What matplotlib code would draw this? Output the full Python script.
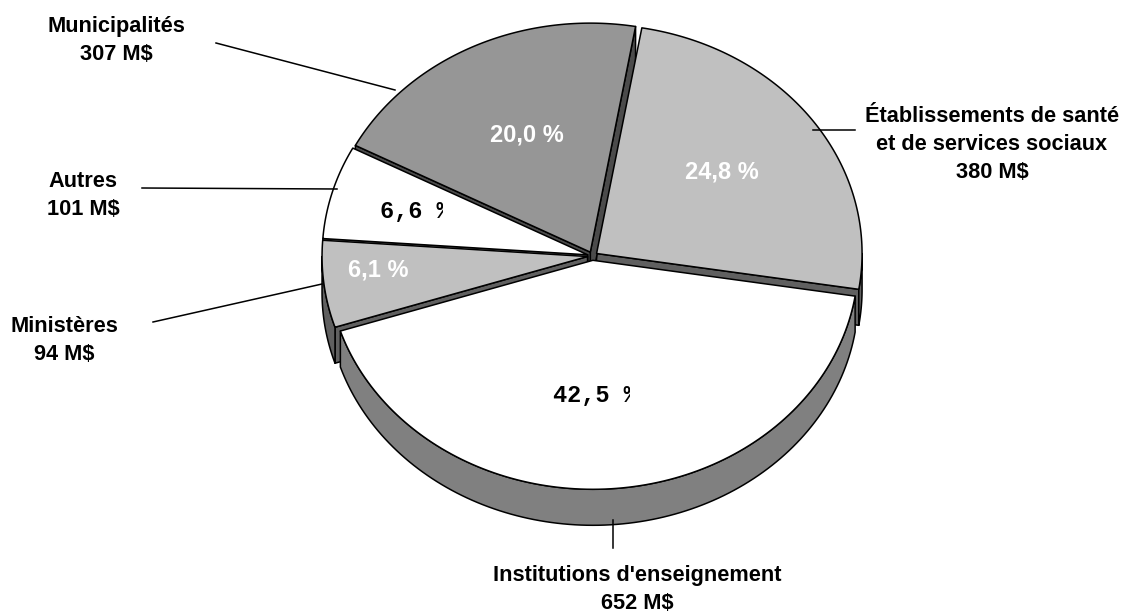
import numpy as np
import matplotlib
matplotlib.use("Agg")
import matplotlib.pyplot as plt
from matplotlib.patches import Polygon
from matplotlib.transforms import Bbox

# Budget by recipient group (M$), listed counter-clockwise around the pie
categories = ["Établissements de santé\net de services sociaux", "Municipalités",
              "Autres", "Ministères", "Institutions d'enseignement"]
amounts = [380, 307, 101, 94, 652]

top_colors = ["#c0c0c0", "#969696", "#ffffff", "#c0c0c0", "#ffffff"]
side_colors = ["#606060", "#4b4b4b", "#808080", "#606060", "#808080"]
pct_colors = ["white", "white", "black", "white", "black"]
pct_mono = [False, False, True, False, True]

# Layout (pixel space)
W, H = 1122, 613
cx, cy, rx, ry = 592.5, 256.0, 265.5, 229.0
depth = 36.0
explode = 5.0
start_angle = -9.0

pct_pos = [(722, 172), (527, 135), (415, 211), (378, 270), (595, 395)]
# x centre and baseline of the last line of each category label
label_pos = [(992, 178), (116, 60), (83, 215), (64, 360), (637, 609)]
leaders = [((813, 130), (855, 130)), ((216, 43), (395, 90)), ((142, 188), (337, 189)),
           ((153, 322), (322, 284)), ((613, 520), (613, 548))]

fig = plt.figure(figsize=(W / 100, H / 100), dpi=100)
ax = fig.add_axes([0, 0, 1, 1])
ax.set_xlim(0, W)
ax.set_ylim(H, 0)
ax.axis("off")

total = float(sum(amounts))
fracs = np.array(amounts) / total
edges = start_angle + 360.0 * np.concatenate([[0.0], np.cumsum(fracs)])

EDGE_LW = 1.1


def arc(t0, t1, ox, oy, dz=0.0, n=120):
    t = np.radians(np.linspace(t0, t1, n))
    return np.column_stack([cx + ox + rx * np.cos(t), cy + oy - ry * np.sin(t) + dz])


slices = []
for i in range(len(amounts)):
    a, b = edges[i], edges[i + 1]
    mid = np.radians((a + b) / 2)
    ox = explode * np.cos(mid)
    oy = -explode * (ry / rx) * np.sin(mid)
    slices.append((a, b, ox, oy))

# Radial side faces turned towards the viewer
for i, (a, b, ox, oy) in enumerate(slices):
    apex = np.array([cx + ox, cy + oy])
    for ang, visible in ((a, np.cos(np.radians(a)) > 0), (b, np.cos(np.radians(b)) < 0)):
        if not visible:
            continue
        rim = arc(ang, ang, ox, oy, n=1)[0]
        pts = [apex, rim, rim + [0, depth], apex + [0, depth]]
        ax.add_patch(Polygon(pts, closed=True, facecolor=side_colors[i],
                             edgecolor="black", lw=EDGE_LW, joinstyle="round"))

# Outer curved walls on the front half
for i, (a, b, ox, oy) in enumerate(slices):
    for lo, hi in ((-180.0, 0.0), (180.0, 360.0)):
        t0, t1 = max(a, lo), min(b, hi)
        if t1 - t0 <= 0:
            continue
        top = arc(t0, t1, ox, oy)
        bot = arc(t1, t0, ox, oy, dz=depth)
        ax.add_patch(Polygon(np.vstack([top, bot]), closed=True,
                             facecolor=side_colors[i], edgecolor="black",
                             lw=EDGE_LW, joinstyle="round"))

# Top faces
for i, (a, b, ox, oy) in enumerate(slices):
    pts = np.vstack([[cx + ox, cy + oy], arc(a, b, ox, oy)])
    ax.add_patch(Polygon(pts, closed=True, facecolor=top_colors[i],
                         edgecolor="black", lw=EDGE_LW, joinstyle="round"))

# Percentage labels
PCT_SIZE = 17
char_w = 0.6 * PCT_SIZE * 100 / 72.0
for i, frac in enumerate(fracs):
    txt = f"{frac * 100:.1f}".replace(".", ",") + " %"
    x, y = pct_pos[i]
    if pct_mono[i]:
        t = ax.text(x, y, txt, ha="center", va="center", color=pct_colors[i],
                    family="Liberation Mono", fontweight="bold", fontsize=PCT_SIZE)
        # the label box is too narrow: the percent sign gets cut
        right = x - len(txt) * char_w / 2 + (len(txt) - 0.5) * char_w
        corners = ax.transData.transform([[x - 100, y - 30], [right, y + 30]])
        box = Bbox.from_extents(corners[:, 0].min(), corners[:, 1].min(),
                                corners[:, 0].max(), corners[:, 1].max())
        t.set_clip_on(True)
        t.set_clip_box(box)
    else:
        ax.text(x, y, txt, ha="center", va="center", color=pct_colors[i],
                family="Liberation Sans", fontweight="bold", fontsize=PCT_SIZE)

# Category labels with amounts and leader lines
for i, name in enumerate(categories):
    x, y = label_pos[i]
    ax.text(x, y, f"{name}\n{amounts[i]} M$", ha="center", va="baseline",
            family="Liberation Sans", fontweight="bold", fontsize=15.7,
            linespacing=1.45, color="black")
    (x0, y0), (x1, y1) = leaders[i]
    ax.plot([x0, x1], [y0, y1], color="black", lw=1.1)

fig.savefig("out.png", dpi=100)
